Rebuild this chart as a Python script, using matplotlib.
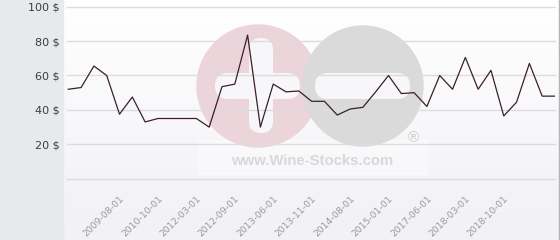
import matplotlib
matplotlib.use('Agg')
import matplotlib.pyplot as plt
import numpy as np
from matplotlib.patches import Circle, FancyBboxPatch, Rectangle
from matplotlib.colors import LinearSegmentedColormap

# prix moyens (categories equidistantes)
prices = [52, 53, 65.5, 60, 37.5, 47.5, 33, 35, 35, 35, 35, 30, 53.5, 55, 83.5,
          30, 55, 50.5, 51, 45, 45, 37, 40.5, 41.5, 50.5, 60, 49.5, 50, 42, 60,
          52, 70.5, 52, 63, 36.5, 44.5, 67, 48, 48]
date_labels = ['2009-08-01', '2010-10-01', '2012-03-01', '2012-09-01', '2013-06-01',
               '2013-11-01', '2014-08-01', '2015-01-01', '2017-06-01', '2018-03-01',
               '2018-10-01']
y_ticks = [20, 40, 60, 80, 100]

W, H = 560, 240
fig = plt.figure(figsize=(W / 100, H / 100), dpi=100)

# fond + filigrane, en pixels
bg = fig.add_axes([0, 0, 1, 1])
bg.set_xlim(0, W)
bg.set_ylim(H, 0)
bg.axis('off')
grad = LinearSegmentedColormap.from_list('g', ['#ffffff', '#f1f1f6'])
bg.imshow(np.linspace(0, 1, 100).reshape(-1, 1), cmap=grad, aspect='auto',
          extent=[63, 559, H, 0], zorder=0)
bg.add_patch(Rectangle((0, 0), 63, H, color='#e6eaed', zorder=1))
bg.plot([559, 559], [0, H], color='#b4b4b4', lw=1, zorder=1)

bg.add_patch(Rectangle((198, 140), 229, 34, color='white', alpha=0.4, zorder=1))
bg.add_patch(Circle((258, 86), 61, color='#ecd4db', zorder=2))
bg.add_patch(Circle((363, 86), 60, color='#dadada', zorder=3))
bg.add_patch(FancyBboxPatch((215, 73), 85, 26, boxstyle='round,pad=0,rounding_size=13',
                            color='#f7f7f9', zorder=4, lw=0))
bg.add_patch(FancyBboxPatch((249, 38), 24, 95, boxstyle='round,pad=0,rounding_size=12',
                            color='#f7f7f9', zorder=4, lw=0))
bg.add_patch(FancyBboxPatch((315, 73), 95, 26, boxstyle='round,pad=0,rounding_size=13',
                            color='#f7f7f9', zorder=4, lw=0))
bg.text(312.5, 161, 'www.Wine-Stocks.com', family='Liberation Sans', weight='bold',
        fontsize=10.7, color='#d8d8d8', ha='center', va='center', zorder=5)
bg.text(413, 138, '\u00ae', family='Liberation Sans', fontsize=11,
        color='#d0d0d0', ha='center', va='center', zorder=5)

# graphique
ax = fig.add_axes([67 / W, 1 - 178.7 / H, 488 / W, 172 / H])
ax.patch.set_alpha(0)
x = np.arange(len(prices))
ax.plot(x, prices, color='#3a1f2b', lw=0.9, zorder=3)

ax.set_xlim(-0.1, len(prices) - 1)
ax.set_ylim(0, 100)
ax.set_yticks([0] + y_ticks)
ax.set_yticklabels([''] + [f'{v} $' for v in y_ticks], fontsize=8, color='#3c3c3c')
ax.set_xticks(range(4, 4 + 3 * len(date_labels), 3))
ax.set_xticklabels(date_labels, rotation=45, ha='right', rotation_mode='anchor',
                   fontsize=6.7, color='#9a9a9a')
ax.tick_params(axis='y', length=0, pad=5.5)
ax.tick_params(axis='x', length=0, pad=11)
ax.grid(axis='y', color='#dcdcdc', lw=1)
for gl in ax.get_ygridlines():
    gl.set_clip_on(False)
for s in ax.spines.values():
    s.set_visible(False)

fig.savefig('out.png', dpi=100)
